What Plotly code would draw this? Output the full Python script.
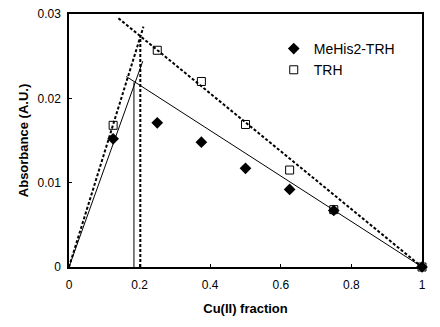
import plotly.graph_objects as go

# Data
cu_fraction = [0.125, 0.25, 0.375, 0.5, 0.625, 0.75, 1.0]
mehis2_trh = [0.0152, 0.0171, 0.0148, 0.0117, 0.0092, 0.0067, 0.0]
trh = [0.0168, 0.0257, 0.0220, 0.0169, 0.0115, 0.0068, 0.0]

# Fit lines (endpoints in data units)
mehis_rise_x = [0.0, 0.209]
mehis_rise_y = [0.0, 0.0244]
mehis_fall_x = [0.162, 1.0]
mehis_fall_y = [0.0226, 0.0]
mehis_vert_x = [0.184, 0.184]
mehis_vert_y = [0.0, 0.0219]

trh_rise_x = [0.0, 0.211]
trh_rise_y = [0.0, 0.0285]
trh_fall_x = [0.140, 1.0]
trh_fall_y = [0.0295, 0.0]
trh_vert_x = [0.202, 0.202]
trh_vert_y = [0.0, 0.0273]

x_ticks = [0, 0.2, 0.4, 0.6, 0.8, 1]
x_tick_text = ["0", "0.2", "0.4", "0.6", "0.8", "1"]
y_ticks = [0, 0.01, 0.02, 0.03]
y_tick_text = ["0", "0.01", "0.02", "0.03"]

fig = go.Figure()

solid = dict(color="black", width=1)
dashed = dict(color="black", width=2, dash="3px,2px")

for xs, ys, ln in [
    (mehis_rise_x, mehis_rise_y, solid),
    (mehis_fall_x, mehis_fall_y, solid),
    (mehis_vert_x, mehis_vert_y, solid),
    (trh_rise_x, trh_rise_y, dashed),
    (trh_fall_x, trh_fall_y, dashed),
    (trh_vert_x, trh_vert_y, dashed),
]:
    fig.add_trace(go.Scatter(x=xs, y=ys, mode="lines", line=ln,
                             showlegend=False, hoverinfo="skip"))

fig.add_trace(go.Scatter(
    x=cu_fraction, y=trh, mode="markers", name="TRH",
    marker=dict(symbol="square-open", size=8, color="black",
                line=dict(color="black", width=1)),
    legendrank=2, cliponaxis=False,
))
fig.add_trace(go.Scatter(
    x=cu_fraction, y=mehis2_trh, mode="markers", name="MeHis2-TRH",
    marker=dict(symbol="diamond", size=9, color="black"),
    legendrank=1, cliponaxis=False,
))

font_family = "Arial, Liberation Sans, sans-serif"

fig.update_layout(
    width=440, height=327,
    margin=dict(l=69, r=18, t=14, b=60),
    paper_bgcolor="white", plot_bgcolor="white",
    font=dict(family=font_family, color="black", size=11),
    legend=dict(x=0.58, y=0.925, xanchor="left", yanchor="top",
                bgcolor="rgba(0,0,0,0)", font=dict(size=14),
                itemwidth=30, tracegroupgap=0),
    xaxis=dict(
        range=[0, 1], tickvals=x_ticks, ticktext=x_tick_text,
        ticks="inside", ticklen=3, tickcolor="black",
        showline=True, linecolor="black", linewidth=1.5, mirror=True,
        showgrid=False, zeroline=False, automargin=False,
        ticklabelstandoff=6,
        title=dict(text="<b>Cu(II) fraction</b>", font=dict(size=13), standoff=13),
        tickfont=dict(size=12),
    ),
    yaxis=dict(
        range=[0, 0.03], tickvals=y_ticks, ticktext=y_tick_text,
        ticks="inside", ticklen=3, tickcolor="black",
        showline=True, linecolor="black", linewidth=1.5, mirror=True,
        showgrid=False, zeroline=False, automargin=False,
        ticklabelstandoff=4,
        title=dict(text="<b>Absorbance (A.U.)</b>", font=dict(size=13), standoff=6),
        tickfont=dict(size=12),
    ),
)

fig.write_html("out.html", config={"displayModeBar": False},
               post_script="document.body.style.margin='0';")
